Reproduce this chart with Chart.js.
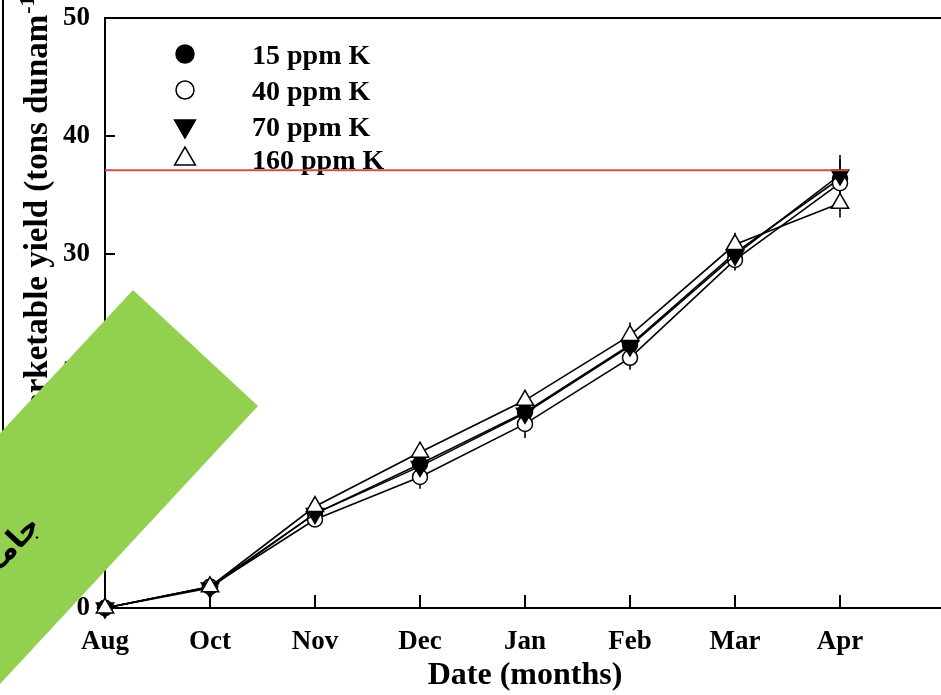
<!DOCTYPE html>
<html>
<head>
<meta charset="utf-8">
<style>
  html, body { margin: 0; padding: 0; overflow: hidden; background: #fff; width: 941px; height: 695px; }
  canvas { display: block; }
</style>
<script src="https://cdn.jsdelivr.net/npm/chart.js@4/dist/chart.umd.min.js"></script>
</head>
<body>
<canvas id="c" width="960" height="695"></canvas>
<script>
// Sampling months (x positions 0..7)
const months = ['Aug', 'Oct', 'Nov', 'Dec', 'Jan', 'Feb', 'Mar', 'Apr'];
const seriesLabels = ['15 ppm K', '40 ppm K', '70 ppm K', '160 ppm K'];

// Cumulative marketable yield, tons per dunam
const k15  = [0, 1.8, 8.0, 12.2, 16.6, 22.3, 30.1, 36.4];
const k40  = [0, 1.8, 7.5, 11.1, 15.6, 21.2, 29.5, 36.0];
const k70  = [0, 1.7, 8.0, 12.0, 16.5, 22.2, 29.9, 36.7];
const k160 = [0, 1.8, 8.6, 13.2, 17.6, 23.1, 30.8, 34.3];

// Standard errors (± around each mean)
const err15  = [0, 0.3, 0.5, 0.6, 0.6, 0.8, 1.0, 1.6];
const err40  = [0, 0.3, 0.6, 1.0, 1.2, 1.0, 0.9, 1.0];
const err70  = [0, 0.9, 0.5, 0.6, 0.7, 0.8, 0.8, 1.7];
const err160 = [0, 0.4, 0.6, 0.5, 0.6, 1.1, 1.0, 1.2];

const yTicks = [0, 10, 20, 30, 40, 50];

// Horizontal reference level and its x extent
const refLevel = 37.1;
const refSpan = [0, 7.08];

const serif = 'Liberation Serif';
const toPts = vals => vals.map((v, i) => ({ x: i, y: v }));

function series(label, vals, errs, style, fill, rotation, radius, order) {
  return {
    label, data: toPts(vals), errs, order, clip: false,
    borderColor: '#000', borderWidth: 1.6,
    pointStyle: style, pointRotation: rotation, pointRadius: radius,
    pointBackgroundColor: fill, pointBorderColor: '#000', pointBorderWidth: 1.5,
    pointHoverRadius: radius, tension: 0, fill: false
  };
}

// later treatments are drawn over earlier ones
const datasets = [
  series(seriesLabels[0], k15,  err15,  'circle',   '#000', 0,   7.5, 3),
  series(seriesLabels[1], k40,  err40,  'circle',   '#fff', 0,   7.5, 2),
  series(seriesLabels[2], k70,  err70,  'triangle', '#000', 180, 10,  1),
  series(seriesLabels[3], k160, err160, 'triangle', '#fff', 0,   10,  0),
  {
    label: 'ref', data: [{ x: refSpan[0], y: refLevel }, { x: refSpan[1], y: refLevel }],
    borderColor: '#C8504B', borderWidth: 2, pointRadius: 0, order: -1, clip: false
  }
];

const legendStyles = [
  { pointStyle: 'circle', rotation: 0, radius: 9, fill: '#000' },
  { pointStyle: 'circle', rotation: 0, radius: 9, fill: '#fff' },
  { pointStyle: 'triangle', rotation: 180, radius: 12, fill: '#000' },
  { pointStyle: 'triangle', rotation: 0, radius: 12, fill: '#fff' }
];

const decor = {
  id: 'decor',
  beforeDatasetsDraw(chart) {
    const { ctx, chartArea: a, scales: { x, y } } = chart;
    ctx.save();
    ctx.strokeStyle = '#000';
    ctx.lineWidth = 2;
    // top frame line
    ctx.beginPath();
    ctx.moveTo(a.left, a.top);
    ctx.lineTo(a.right, a.top);
    ctx.stroke();
    // inward tick marks
    ctx.beginPath();
    yTicks.forEach(v => {
      const py = Math.round(y.getPixelForValue(v));
      ctx.moveTo(a.left, py); ctx.lineTo(a.left + 10, py);
    });
    months.forEach((m, i) => {
      const px = Math.round(x.getPixelForValue(i));
      ctx.moveTo(px, a.bottom); ctx.lineTo(px, a.bottom - 13);
    });
    ctx.stroke();

    // error bars
    ctx.lineWidth = 1.6;
    chart.data.datasets.forEach((ds, di) => {
      if (!ds.errs) return;
      const meta = chart.getDatasetMeta(di);
      ctx.beginPath();
      ds.data.forEach((p, j) => {
        const e = ds.errs[j];
        if (!e) return;
        const px = meta.data[j].x;
        ctx.moveTo(px, y.getPixelForValue(p.y + e));
        ctx.lineTo(px, y.getPixelForValue(p.y - e));
      });
      ctx.stroke();
    });

    // legend
    ctx.font = `bold 28px "${serif}"`;
    ctx.textAlign = 'left';
    ctx.textBaseline = 'alphabetic';
    const rows = [54, 90, 126, 159];
    seriesLabels.forEach((lab, i) => {
      const st = legendStyles[i];
      ctx.fillStyle = st.fill;
      ctx.strokeStyle = '#000';
      ctx.lineWidth = 1.5;
      Chart.helpers.drawPoint(ctx, { pointStyle: st.pointStyle, rotation: st.rotation, radius: st.radius, borderWidth: 1.5 }, 185, rows[i]);
      ctx.fillStyle = '#000';
      ctx.fillText(lab, 252, rows[i] + 10);
    });
    ctx.restore();
  },
  afterDraw(chart) {
    const { ctx } = chart;
    ctx.save();
    // outer frame edge on the left
    ctx.strokeStyle = '#000';
    ctx.lineWidth = 2;
    ctx.beginPath();
    ctx.moveTo(3, 0); ctx.lineTo(3, 600);
    ctx.stroke();

    // y-axis title with superscript
    ctx.fillStyle = '#000';
    ctx.translate(47, 441);
    ctx.rotate(-Math.PI / 2);
    ctx.textBaseline = 'alphabetic';
    ctx.textAlign = 'left';
    ctx.font = `bold 33px "${serif}"`;
    const main = 'Marketable yield (tons dunam';
    ctx.fillText(main, 0, 0);
    let w = ctx.measureText(main).width;
    ctx.font = `bold 22px "${serif}"`;
    ctx.fillText('-1', w + 1, -13);
    w += ctx.measureText('-1').width + 2;
    ctx.font = `bold 33px "${serif}"`;
    ctx.fillText(')', w, 0);
    ctx.restore();

    // diagonal green banner
    ctx.save();
    const p1 = [133, 290], p2 = [258, 406];
    const ux = -116 / 170.5, uy = 125 / 170.5, L = 900;
    ctx.fillStyle = '#92D050';
    ctx.beginPath();
    ctx.moveTo(p1[0], p1[1]);
    ctx.lineTo(p2[0], p2[1]);
    ctx.lineTo(p2[0] + L * ux, p2[1] + L * uy);
    ctx.lineTo(p1[0] + L * ux, p1[1] + L * uy);
    ctx.closePath();
    ctx.fill();
    ctx.translate(36, 521);
    ctx.rotate(Math.atan2(-125, 116));
    ctx.fillStyle = '#000';
    ctx.font = 'bold 30px "DejaVu Sans"';
    ctx.direction = 'rtl';
    ctx.textAlign = 'right';
    ctx.textBaseline = 'middle';
    ctx.fillText('جامعة', 0, 0);
    ctx.restore();
  }
};

const tickFont = { family: serif, size: 27, weight: 'bold' };

new Chart(document.getElementById('c'), {
  type: 'line',
  data: { datasets },
  options: {
    responsive: false,
    animation: false,
    devicePixelRatio: 1,
    layout: { padding: { left: 0, top: 18, right: 15, bottom: 0 } },
    plugins: { legend: { display: false }, tooltip: { enabled: false } },
    scales: {
      x: {
        type: 'linear', min: 0, max: 8,
        afterFit(s) { s.height = 87; s.paddingLeft = 0; s.paddingRight = 0; },
        grid: { display: false, drawTicks: false },
        border: { display: true, color: '#000', width: 2 },
        ticks: {
          stepSize: 1, autoSkip: false, maxRotation: 0, padding: 18, color: '#000', font: tickFont,
          callback: v => (Number.isInteger(v) && months[v]) ? months[v] : ''
        },
        title: {
          display: true, text: 'Date (months)', color: '#000',
          font: { family: serif, size: 32, weight: 'bold' }, padding: { top: 0, bottom: 0 }
        }
      },
      y: {
        min: 0, max: 50,
        afterFit(s) { s.width = 105; s.paddingTop = 0; s.paddingBottom = 0; },
        grid: { display: false, drawTicks: false },
        border: { display: true, color: '#000', width: 2 },
        ticks: { stepSize: 10, padding: 15, color: '#000', font: tickFont }
      }
    }
  },
  plugins: [decor]
});
</script>
</body>
</html>
